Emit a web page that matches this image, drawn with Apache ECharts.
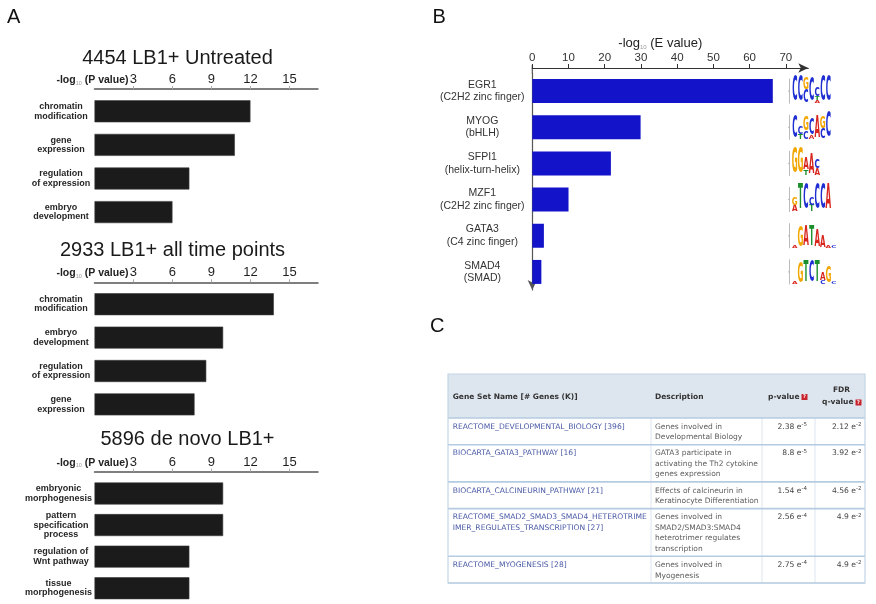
<!DOCTYPE html>
<html>
<head>
<meta charset="utf-8">
<script src="https://cdn.jsdelivr.net/npm/echarts@6/dist/echarts.min.js"></script>
<style>
  html, body { margin: 0; padding: 0; background: #fff; }
  #chart { width: 876px; height: 604px; }
</style>
</head>
<body>
<div id="chart"></div>
<script>
// ---- Panel A: GO term enrichment, -log10(P value) ----
const untreatedTerms = ['chromatin\nmodification', 'gene\nexpression', 'regulation\nof expression', 'embryo\ndevelopment'];
const untreatedValues = [12.0, 10.8, 7.3, 6.0];
const allTimeTerms = ['chromatin\nmodification', 'embryo\ndevelopment', 'regulation\nof expression', 'gene\nexpression'];
const allTimeValues = [13.8, 9.9, 8.6, 7.7];
const deNovoTerms = ['embryonic\nmorphogenesis', 'pattern\nspecification\nprocess', 'regulation of\nWnt pathway', 'tissue\nmorphogenesis'];
const deNovoValues = [9.9, 9.9, 7.3, 7.3];
const pTicks = [3, 6, 9, 12, 15];

// ---- Panel B: enriched motifs, -log10(E value) ----
const motifNames = ['EGR1\n(C2H2 zinc finger)', 'MYOG\n(bHLH)', 'SFPI1\n(helix-turn-helix)', 'MZF1\n(C2H2 zinc finger)', 'GATA3\n(C4 zinc finger)', 'SMAD4\n(SMAD)'];
const motifValues = [66.4, 29.9, 21.7, 10.0, 3.2, 2.5];
const eTicks = [0, 10, 20, 30, 40, 50, 60, 70];

// Sequence logos: columns of [letter, relative height], listed top to bottom
const egr1Logo = [[['C', 1]], [['C', 1]], [['G', 0.45], ['C', 0.5]], [['C', 0.95]], [['C', 0.35], ['T', 0.15], ['A', 0.12]], [['C', 1]], [['C', 1]]];
const myogLogo = [[['C', 0.9]], [['C', 0.3], ['T', 0.2]], [['G', 0.55], ['C', 0.3]], [['C', 0.6], ['A', 0.15]], [['A', 0.9]], [['G', 0.45], ['C', 0.4]], [['C', 1]]];
const sfpi1Logo = [[['G', 1]], [['G', 1]], [['A', 0.45], ['T', 0.2]], [['A', 0.75]], [['C', 0.35], ['A', 0.25]]];
const mzf1Logo = [[['G', 0.3], ['A', 0.25]], [['T', 1]], [['C', 1]], [['C', 0.3], ['T', 0.25]], [['C', 1]], [['C', 1]], [['A', 1]]];
const gata3Logo = [[['A', 0.08]], [['G', 0.75]], [['A', 0.8]], [['T', 0.8]], [['A', 0.65]], [['A', 0.45]], [['A', 0.08]], [['C', 0.08]]];
const smad4Logo = [[['A', 0.08]], [['G', 0.8]], [['T', 0.85]], [['C', 0.85]], [['T', 0.85]], [['A', 0.3], ['C', 0.15]], [['G', 0.6]], [['C', 0.1]]];
const motifLogos = [egr1Logo, myogLogo, sfpi1Logo, mzf1Logo, gata3Logo, smad4Logo];
const baseColors = { A: '#d8261e', C: '#1f2ed2', G: '#f2a600', T: '#1b8f2c' };

// ---- Panel C: gene set enrichment table ----
const geneSetNames = [
  'REACTOME_DEVELOPMENTAL_BIOLOGY [396]',
  'BIOCARTA_GATA3_PATHWAY [16]',
  'BIOCARTA_CALCINEURIN_PATHWAY [21]',
  'REACTOME_SMAD2_SMAD3_SMAD4_HETEROTRIME\nIMER_REGULATES_TRANSCRIPTION [27]',
  'REACTOME_MYOGENESIS [28]'
];
const geneSetDescriptions = [
  'Genes involved in\nDevelopmental Biology',
  'GATA3 participate in\nactivating the Th2 cytokine\ngenes expression',
  'Effects of calcineurin in\nKeratinocyte Differentiation',
  'Genes involved in\nSMAD2/SMAD3:SMAD4\nheterotrimer regulates\ntranscription',
  'Genes involved in\nMyogenesis'
];
const pValueMantissa = ['2.38', '8.8', '1.54', '2.56', '2.75'];
const pValueExponent = ['-5', '-5', '-4', '-4', '-4'];
const fdrMantissa = ['2.12', '3.92', '4.56', '4.9', '4.9'];
const fdrExponent = ['-2', '-2', '-2', '-2', '-2'];

const SANS = '"Liberation Sans", Arial, Helvetica, sans-serif';
const TABLE_SANS = '"DejaVu Sans", Verdana, sans-serif';
const LOGO_SANS = '"DejaVu Sans Condensed", "Liberation Sans Narrow", "DejaVu Sans", sans-serif';

const chart = echarts.init(document.getElementById('chart'));

// Category labels in panel A: lines centred in a block that is right-aligned at the axis
const measureCtx = document.createElement('canvas').getContext('2d');
function textWidth(s, font) { measureCtx.font = font; return measureCtx.measureText(s).width; }
const termRich = {};
function termLabel(value) {
  const lines = String(value).split('\n');
  const widest = Math.max(...lines.map(l => textWidth(l, 'bold 9px ' + SANS)));
  const w = Math.max(64, Math.ceil(widest) + 1);
  const key = 't' + w;
  if (!termRich[key]) {
    termRich[key] = { width: w, align: 'center', fontSize: 9, fontWeight: 'bold', lineHeight: 9.5, color: '#262626', fontFamily: SANS };
  }
  return lines.map(l => '{' + key + '|' + l + '}').join('\n');
}
[...untreatedTerms, ...allTimeTerms, ...deNovoTerms].forEach(termLabel);

const panelA = [
  { terms: untreatedTerms, values: untreatedValues, title: '4454 LB1+ Untreated', titleX: 177.5, titleY: 58, top: 94.5, height: 134.4, offset: 5.5 },
  { terms: allTimeTerms, values: allTimeValues, title: '2933 LB1+ all time points', titleX: 172.5, titleY: 250, top: 287.5, height: 133.6, offset: 5.2 },
  { terms: deNovoTerms, values: deNovoValues, title: '5896 de novo LB1+', titleX: 187.5, titleY: 439, top: 477.7, height: 134.8, offset: 6 }
];

const grid = [], xAxis = [], yAxis = [], series = [];
panelA.forEach((p, i) => {
  grid.push({ left: 94.5, top: p.top, width: 223.5, height: p.height });
  xAxis.push({
    type: 'value', gridIndex: i, position: 'top', min: 0, max: 17.2, offset: p.offset,
    axisLine: { show: true, lineStyle: { color: '#555', width: 1.5 } },
    axisTick: { show: true, customValues: pTicks, length: 3, lineStyle: { color: '#aaa', width: 1 } },
    axisLabel: { customValues: pTicks, margin: 3, fontSize: 13, color: '#1e1e1e', fontFamily: SANS },
    splitLine: { show: false }
  });
  yAxis.push({
    type: 'category', gridIndex: i, inverse: true, data: p.terms,
    axisLine: { show: false }, axisTick: { show: false },
    axisLabel: { interval: 0, align: 'right', margin: 1.5, formatter: termLabel, rich: termRich }
  });
  series.push({
    type: 'bar', xAxisIndex: i, yAxisIndex: i, data: p.values, barWidth: 22, silent: true,
    itemStyle: { color: '#1b1b1b', borderColor: '#3a3a3a', borderWidth: 0.6 }
  });
});

// Panel B grid
grid.push({ left: 532.3, top: 73, width: 276, height: 217 });
xAxis.push({
  type: 'value', gridIndex: 3, position: 'top', min: 0, max: 76.2, offset: 5,
  name: '{n|-log}{s|10}{n| (E value)}', nameLocation: 'middle', nameGap: 18,
  nameTextStyle: {
    padding: [0, 20, 0, 0],
    rich: {
      n: { fontSize: 13, color: '#222', fontFamily: SANS },
      s: { fontSize: 6, color: '#999', fontFamily: SANS, verticalAlign: 'bottom', lineHeight: 10 }
    }
  },
  axisLine: { show: true, symbol: ['none', 'arrow'], symbolSize: [7, 10], lineStyle: { color: '#333', width: 1.2 } },
  axisTick: { show: true, customValues: eTicks, length: 4, lineStyle: { color: '#333', width: 1 } },
  axisLabel: { customValues: eTicks, margin: 4, fontSize: 11.5, color: '#333', fontFamily: SANS },
  splitLine: { show: false }
});
yAxis.push({
  type: 'category', gridIndex: 3, inverse: true, data: motifNames,
  axisLine: { show: true, symbol: ['arrow', 'none'], symbolSize: [7, 10], symbolOffset: [0, 0], lineStyle: { color: '#555', width: 1.2 } },
  axisTick: { show: false },
  axisLabel: { interval: 0, align: 'center', margin: 50, fontSize: 10.5, lineHeight: 12.5, color: '#333', fontFamily: SANS }
});
series.push({
  type: 'bar', xAxisIndex: 3, yAxisIndex: 3, data: motifValues, barWidth: 24, silent: true,
  itemStyle: { color: '#1313c9' }
});

chart.setOption({ animation: false, grid, xAxis, yAxis, series });

// ---- Annotations, logos and table ----
const els = [];
const text = (x, y, t, style) => els.push({ type: 'text', x, y, silent: true, style: Object.assign({ text: t }, style) });
const line = (x1, y1, x2, y2, stroke, lineWidth) => els.push({ type: 'line', silent: true, shape: { x1, y1, x2, y2 }, style: { stroke, lineWidth } });
const rect = (x, y, width, height, style) => els.push({ type: 'rect', silent: true, shape: { x, y, width, height }, style });

// panel letters
[['A', 7, 17], ['B', 432.5, 17], ['C', 430, 326.5]].forEach(([t, x, y]) =>
  text(x, y, t, { fontSize: 20, fontFamily: SANS, fill: '#111', align: 'left', verticalAlign: 'middle' }));

// panel A titles and axis names
panelA.forEach((p, i) => {
  text(p.titleX, p.titleY, p.title, { fontSize: 20, fontFamily: SANS, fill: '#1a1a1a', align: 'center', verticalAlign: 'middle' });
  const x3 = chart.convertToPixel({ xAxisIndex: i }, pTicks[0]);
  text(x3 - 5, p.top - p.offset - 9, '{b|-log}{s|10}{b| (P value)}', {
    align: 'right', verticalAlign: 'middle',
    rich: {
      b: { fontSize: 10.5, fontWeight: 'bold', fontFamily: SANS, fill: '#222', lineHeight: 12 },
      s: { fontSize: 5.5, fontFamily: SANS, fill: '#999', verticalAlign: 'bottom', lineHeight: 8 }
    }
  });
});

// panel B: join the vertical axis to the horizontal one
const originX = chart.convertToPixel({ xAxisIndex: 3 }, 0);
line(originX, 65, originX, 73.5, '#555', 1.2);

// sequence logos beside each motif bar
const LOGO_FS = 8, CAP = 0.73, LOGO_H = 25, COL_W = 5.6, LOGO_X = 792;
motifLogos.forEach((logo, idx) => {
  const cy = chart.convertToPixel({ yAxisIndex: 3 }, idx);
  const base = cy + 12.5;
  line(LOGO_X - 2.5, base - LOGO_H, LOGO_X - 2.5, base, '#aaa', 0.8);
  line(LOGO_X - 4, base - LOGO_H / 2, LOGO_X - 2.5, base - LOGO_H / 2, '#aaa', 0.8);
  logo.forEach((col, c) => {
    let y = base;
    const cx = LOGO_X + COL_W * c + COL_W / 2;
    col.slice().reverse().forEach(([L, frac]) => {
      const h = frac * LOGO_H;
      els.push({
        type: 'text', silent: true, x: cx, y: y - h / 2,
        scaleX: 1, scaleY: h / (CAP * LOGO_FS),
        style: { text: L, fontSize: LOGO_FS, fontWeight: 'bold', fontFamily: LOGO_SANS, fill: baseColors[L], align: 'center', verticalAlign: 'middle' }
      });
      y -= h;
    });
  });
});

// panel C table
const tableLeft = 448, tableRight = 865, headTop = 374, headBottom = 418;
const colDesc = 651, colP = 762, colFdr = 815;
const LINE_H = 10.5, CELL_FS = 7.6;
const linkColor = '#4a5aa6', descColor = '#5c5c5c', valueColor = '#444', ruleColor = '#b4cbe1';

rect(tableLeft, headTop, tableRight - tableLeft, headBottom - headTop, { fill: '#dde5ee' });

const headStyle = { fontSize: 7.5, fontWeight: 'bold', fontFamily: TABLE_SANS, fill: '#333', verticalAlign: 'middle' };
text(452.7, 397, 'Gene Set Name [# Genes (K)]', Object.assign({ align: 'left' }, headStyle));
text(655, 397, 'Description', Object.assign({ align: 'left' }, headStyle));
text(799.5, 397, 'p-value', Object.assign({ align: 'right' }, headStyle));
text(841.5, 390.5, 'FDR', Object.assign({ align: 'center' }, headStyle));
text(853.5, 402.5, 'q-value', Object.assign({ align: 'right' }, headStyle));
[[801.5, 394], [855.5, 399.5]].forEach(([x, y]) => {
  rect(x, y, 6, 6, { fill: '#c9242c' });
  text(x + 3, y + 3.2, '?', { fontSize: 5, fontWeight: 'bold', fontFamily: TABLE_SANS, fill: '#fff', align: 'center', verticalAlign: 'middle' });
});

const expRich = {
  m: { fontSize: CELL_FS, fontFamily: TABLE_SANS, fill: valueColor, lineHeight: LINE_H },
  e: { fontSize: 5.5, fontFamily: TABLE_SANS, fill: valueColor, lineHeight: 6, verticalAlign: 'top' }
};
let rowTop = headBottom;
const rowEdges = [headBottom];
geneSetNames.forEach((name, i) => {
  const desc = geneSetDescriptions[i];
  const n = Math.max(name.split('\n').length, desc.split('\n').length);
  const h = 5.7 + LINE_H * n;
  const ty = rowTop + 3.5;
  text(452.7, ty, name, { fontSize: CELL_FS, fontFamily: TABLE_SANS, fill: linkColor, align: 'left', verticalAlign: 'top', lineHeight: LINE_H });
  text(655, ty, desc, { fontSize: 7.5, fontFamily: TABLE_SANS, fill: descColor, align: 'left', verticalAlign: 'top', lineHeight: LINE_H });
  text(807, ty, '{m|' + pValueMantissa[i] + ' e}{e|' + pValueExponent[i] + '}', { align: 'right', verticalAlign: 'top', rich: expRich });
  text(861.5, ty, '{m|' + fdrMantissa[i] + ' e}{e|' + fdrExponent[i] + '}', { align: 'right', verticalAlign: 'top', rich: expRich });
  rowTop += h;
  rowEdges.push(rowTop);
});
const tableBottom = rowTop;
[colDesc, colP, colFdr].forEach(x => line(x, headBottom, x, tableBottom, '#dde6ef', 1));
rowEdges.forEach(y => line(tableLeft, y, tableRight, y, ruleColor, 1.6));
rect(tableLeft, headTop, tableRight - tableLeft, tableBottom - headTop, { fill: 'none', stroke: '#c3d4e4', lineWidth: 1.2 });

chart.setOption({ graphic: { elements: els } });
</script>
</body>
</html>
